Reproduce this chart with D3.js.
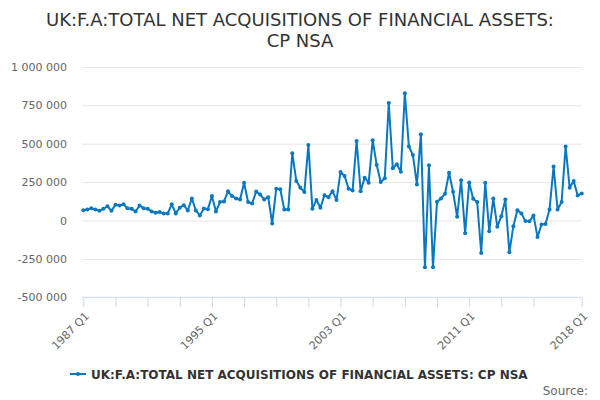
<!DOCTYPE html>
<html>
<head>
<meta charset="utf-8">
<script src="https://cdn.jsdelivr.net/npm/d3@7"></script>
<style>
    body { margin: 0; background: #fff; }
    svg { font-family: "DejaVu Sans", sans-serif; }
</style>
</head>
<body>
<div id="chart"></div>
<script>
var titleLines = ['UK:F.A:TOTAL NET ACQUISITIONS OF FINANCIAL ASSETS:', 'CP NSA'];
var seriesName = 'UK:F.A:TOTAL NET ACQUISITIONS OF FINANCIAL ASSETS: CP NSA';

var firstYear = 1987, lastYear = 2018;

// quarterly values, 1987 Q1 .. 2018 Q1 (GBP million)
var values = [
    67000, 72000, 80000, 72000, 63000, 76000, 93000, 63000,
    102000, 98000, 106000, 80000, 76000, 59000, 98000, 80000,
    76000, 59000, 50000, 55000, 46000, 46000, 105000, 46000,
    83000, 100000, 65000, 144000, 65000, 33000, 78000, 74000,
    159000, 59000, 120000, 124000, 190000, 159000, 144000, 137000,
    246000, 120000, 111000, 188000, 170000, 137000, 152000, -20000,
    207000, 203000, 72000, 72000, 438000, 257000, 214000, 185000,
    492000, 76000, 133000, 83000, 165000, 152000, 191000, 133000,
    316000, 290000, 207000, 196000, 518000, 191000, 279000, 246000,
    523000, 361000, 250000, 275000, 765000, 340000, 366000, 318000,
    828000, 482000, 427000, 235000, 562000, -305000, 359000, -305000,
    122000, 144000, 174000, 311000, 187000, 24000, 262000, -83000,
    248000, 142000, 120000, -211000, 246000, -70000, 144000, -41000,
    28000, 137000, -207000, -37000, 67000, 46000, -4000, -5000,
    33000, -107000, -26000, -22000, 72000, 351000, 72000, 120000,
    482000, 214000, 257000, 163000, 176000
];

var yTicks = [-500000, -250000, 0, 250000, 500000, 750000, 1000000];
var xTickLabels = ['1987 Q1', '1995 Q1', '2003 Q1', '2011 Q1', '2018 Q1'];

var categories = [];
for (var yr = firstYear; yr <= lastYear; yr++) {
    for (var q = 1; q <= 4; q++) {
        if (yr === lastYear && q > 1) break;
        categories.push(yr + ' Q' + q);
    }
}
// minor ticks every 2 years, plus the last quarter
var xTicks = categories.filter(function (c, i) { return i % 8 === 0 && i <= 112; });
xTicks.push(categories[categories.length - 1]);

var data = categories.map(function (c, i) { return { cat: c, value: values[i] }; });

var width = 600, height = 400,
    plotLeft = 83.3, plotRight = 581.7, plotTop = 66.9, plotBottom = 297.3,
    lineColor = '#0a78c0';

var svg = d3.select('#chart').append('svg')
    .attr('width', width)
    .attr('height', height);

var x = d3.scalePoint().domain(categories).range([plotLeft, plotRight]);
var y = d3.scaleLinear().domain([-500000, 1000000]).range([plotBottom, plotTop]);

var fmt = d3.formatLocale({ decimal: '.', thousands: ' ', grouping: [3], currency: ['', ''], minus: '-' }).format(',');

// title
svg.append('text')
    .attr('text-anchor', 'middle')
    .attr('fill', '#333333')
    .style('font-size', '18px')
    .selectAll('tspan')
    .data(titleLines)
    .enter().append('tspan')
    .attr('x', width / 2)
    .attr('y', function (d, i) { return 25.5 + i * 21; })
    .text(function (d) { return d; });

// y axis + grid
var yAxis = svg.append('g')
    .attr('transform', 'translate(' + (plotLeft - 1.3) + ',0)')
    .call(d3.axisLeft(y).tickValues(yTicks).tickSize(-(plotRight - plotLeft + 1.3)).tickPadding(15).tickFormat(fmt));
yAxis.select('.domain').remove();
yAxis.selectAll('line').attr('stroke', '#e6e6e6');
yAxis.selectAll('.tick').filter(function (d) { return d === -500000; }).select('line').remove();
yAxis.selectAll('text')
    .attr('fill', '#666666')
    .style('font-size', '11px')
    .style('font-family', '"DejaVu Sans", sans-serif');

// x axis
var xAxis = svg.append('g')
    .attr('transform', 'translate(0,' + plotBottom + ')')
    .call(d3.axisBottom(x).tickValues(xTicks).tickSize(10)
        .tickFormat(function (d) { return xTickLabels.indexOf(d) >= 0 ? d : ''; }));
xAxis.select('.domain')
    .attr('d', 'M' + (plotLeft - 1.3) + ',0H' + (plotRight + 0.5))
    .attr('stroke', '#ccd6eb');
xAxis.selectAll('line').attr('stroke', '#ccd6eb');
xAxis.selectAll('text')
    .attr('fill', '#666666')
    .style('font-size', '11px')
    .style('font-family', '"DejaVu Sans", sans-serif')
    .attr('text-anchor', 'end')
    .attr('transform', 'rotate(-45)')
    .attr('x', -9.6)
    .attr('y', 18)
    .attr('dy', 0);

// series
var line = d3.line()
    .x(function (d) { return x(d.cat); })
    .y(function (d) { return y(d.value); });

svg.append('path')
    .datum(data)
    .attr('d', line)
    .attr('fill', 'none')
    .attr('stroke', lineColor)
    .attr('stroke-width', 2)
    .attr('stroke-linejoin', 'round');

svg.append('g').selectAll('circle')
    .data(data)
    .enter().append('circle')
    .attr('cx', function (d) { return x(d.cat); })
    .attr('cy', function (d) { return y(d.value); })
    .attr('r', 2)
    .attr('fill', lineColor);

// legend
var legend = svg.append('g').attr('transform', 'translate(70,374)');
legend.append('line')
    .attr('x1', 0).attr('x2', 16)
    .attr('stroke', lineColor)
    .attr('stroke-width', 2);
legend.append('circle')
    .attr('cx', 8)
    .attr('r', 2)
    .attr('fill', lineColor);
legend.append('text')
    .attr('x', 21)
    .attr('y', 4.5)
    .attr('fill', '#333333')
    .style('font-size', '12px')
    .style('font-weight', 'bold')
    .text(seriesName);

svg.append('text')
    .attr('x', 588)
    .attr('y', 394.5)
    .attr('text-anchor', 'end')
    .attr('fill', '#666666')
    .style('font-size', '12px')
    .text('Source:');
</script>
</body>
</html>
